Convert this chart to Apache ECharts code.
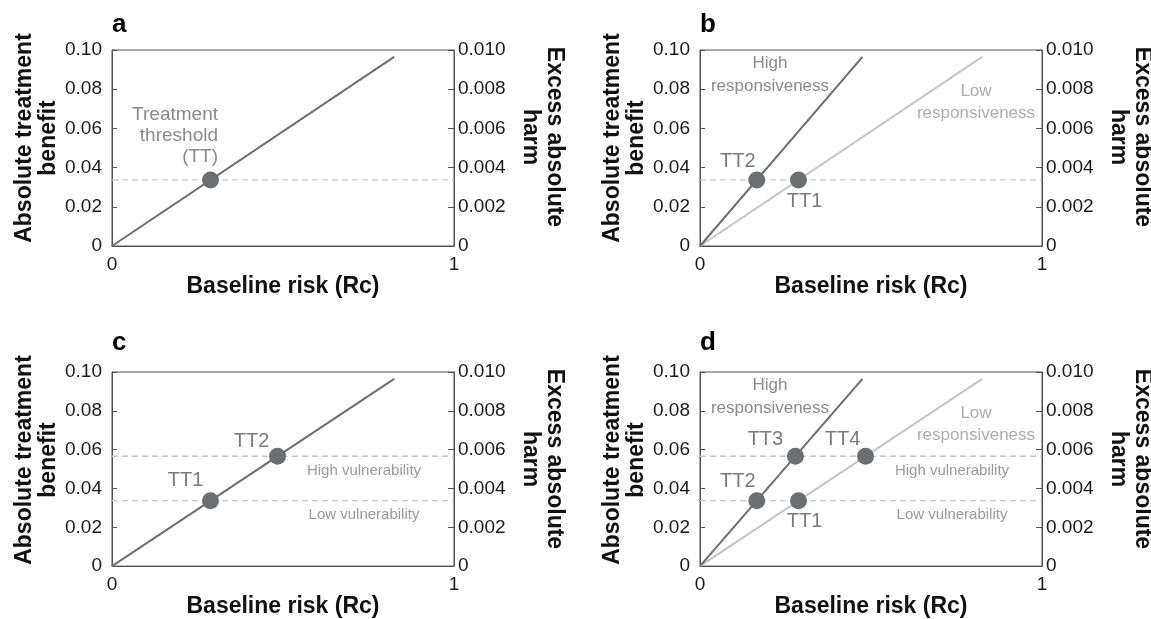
<!DOCTYPE html>
<html>
<head>
<meta charset="utf-8">
<script src="https://cdn.jsdelivr.net/npm/echarts@6/dist/echarts.min.js"></script>
<style>
  html, body { margin: 0; padding: 0; background: #ffffff; }
  #chart { width: 1151px; height: 619px; }
</style>
</head>
<body>
<div id="chart"></div>
<script>
// ---- values ----
const xTickValues = [0, 1];
const benefitRange = [0, 0.1];       // left axis: absolute treatment benefit
const harmRange = [0, 0.01];         // right axis: excess absolute harm
const lowVulnerability = 0.0337;     // treatment threshold, low vulnerability
const highVulnerability = 0.0566;    // treatment threshold, high vulnerability

// benefit vs baseline risk
const lowResponsiveness = [[0, 0], [0.825, 0.0965]];
const highResponsiveness = [[0, 0], [0.475, 0.0965]];

// treatment thresholds: [baseline risk, benefit, name]
const pointsA = [[0.288, 0.0337, 'TT']];
const pointsB = [[0.166, 0.0337, 'TT2'], [0.288, 0.0337, 'TT1']];
const pointsC = [[0.288, 0.0337, 'TT1'], [0.484, 0.0566, 'TT2']];
const pointsD = [[0.166, 0.0337, 'TT2'], [0.288, 0.0337, 'TT1'],
                 [0.279, 0.0566, 'TT3'], [0.484, 0.0566, 'TT4']];

// ---- styling ----
const FONT = "'Liberation Sans', Arial, Helvetica, sans-serif";
const AXIS = '#505050';
const DARK = '#6d6e71';
const LIGHT = '#c4c4c4';
const DASH = '#c8c8c8';
const GW = 342, GH = 196;

const panels = [
  { key: 'a', left: 112, top: 50,  lines: [{ data: lowResponsiveness, color: DARK }],
    thresholds: [lowVulnerability], points: pointsA, showNames: false },
  { key: 'b', left: 700, top: 50,  lines: [{ data: lowResponsiveness, color: LIGHT }, { data: highResponsiveness, color: DARK }],
    thresholds: [lowVulnerability], points: pointsB, showNames: true },
  { key: 'c', left: 112, top: 372, lines: [{ data: lowResponsiveness, color: DARK }],
    thresholds: [lowVulnerability, highVulnerability], points: pointsC, showNames: true },
  { key: 'd', left: 700, top: 372, lines: [{ data: lowResponsiveness, color: LIGHT }, { data: highResponsiveness, color: DARK }],
    thresholds: [lowVulnerability, highVulnerability], points: pointsD, showNames: true }
];

// where each threshold name sits relative to its dot
const labelOffsets = {
  b: { TT2: [-19, -18], TT1: [6, 22] },
  c: { TT1: [-25, -20], TT2: [-26, -15] },
  d: { TT2: [-19, -19], TT1: [6, 21], TT3: [-30, -17], TT4: [-23, -17] }
};

const fmt = (d) => (v) => (v === 0 ? '0' : v.toFixed(d));

const grid = [], xAxis = [], yAxis = [], series = [];

panels.forEach((p, i) => {
  grid.push({ left: p.left, top: p.top, width: GW, height: GH, show: true,
              borderColor: AXIS, borderWidth: 1, backgroundColor: 'transparent' });
  xAxis.push({
    type: 'value', gridIndex: i, min: xTickValues[0], max: xTickValues[1], interval: 1,
    axisLine: { show: true, lineStyle: { color: AXIS, width: 1 } },
    axisTick: { show: false }, splitLine: { show: false },
    axisLabel: { fontSize: 19, color: '#1a1a1a', margin: 9, fontFamily: FONT },
    name: 'Baseline risk (Rc)', nameLocation: 'middle', nameGap: 28,
    nameTextStyle: { fontSize: 23, fontWeight: 'bold', color: '#111', fontFamily: FONT }
  });
  yAxis.push({
    type: 'value', gridIndex: i, position: 'left', min: benefitRange[0], max: benefitRange[1], interval: 0.02,
    axisLine: { show: true, lineStyle: { color: AXIS, width: 1 } },
    axisTick: { show: true, inside: true, length: 5, lineStyle: { color: AXIS } },
    splitLine: { show: false },
    axisLabel: { fontSize: 19, color: '#1a1a1a', margin: 10, fontFamily: FONT, formatter: fmt(2) }
  });
  yAxis.push({
    type: 'value', gridIndex: i, position: 'right', min: harmRange[0], max: harmRange[1], interval: 0.002,
    axisLine: { show: true, lineStyle: { color: AXIS, width: 1 } },
    axisTick: { show: true, inside: true, length: 6, lineStyle: { color: AXIS } },
    splitLine: { show: false },
    axisLabel: { fontSize: 19, color: '#1a1a1a', margin: 4, fontFamily: FONT, formatter: fmt(3) }
  });

  p.thresholds.forEach((t) => {
    series.push({
      type: 'line', xAxisIndex: i, yAxisIndex: 2 * i, data: [[0, t], [1, t]],
      symbol: 'none', silent: true, z: 1,
      lineStyle: { color: DASH, width: 1.3, type: [6, 4] }
    });
  });
  p.lines.forEach((l) => {
    series.push({
      type: 'line', xAxisIndex: i, yAxisIndex: 2 * i, data: l.data,
      symbol: 'none', silent: true, z: 2,
      lineStyle: { color: l.color, width: 2 }
    });
  });
  series.push({
    type: 'scatter', xAxisIndex: i, yAxisIndex: 2 * i, z: 5,
    symbolSize: 17, itemStyle: { color: DARK, opacity: 1 },
    data: p.points.map((pt) => ({
      value: [pt[0], pt[1]],
      label: p.showNames ? {
        show: true, formatter: pt[2], position: 'inside',
        offset: labelOffsets[p.key][pt[2]],
        fontSize: 20, color: '#7a7a7a', fontFamily: FONT
      } : { show: false }
    }))
  });
});

// ---- free text: panel letters, axis titles, annotations ----
const txt = (x, y, text, o) => Object.assign({
  type: 'text', x, y, silent: true,
  style: Object.assign({ text, fontFamily: FONT, align: 'center', verticalAlign: 'middle' }, o.style)
}, o.el || {});

const graphic = [];
panels.forEach((p) => {
  const dy = p.top - 50;
  graphic.push(txt(p.left, 25 + dy * 0.988, p.key, { style: { fontSize: 26, fontWeight: 'bold', fill: '#000', align: 'left' } }));
  graphic.push(txt(p.left - 75, 138 + dy, 'Absolute treatment\nbenefit',
    { style: { fontSize: 23, fontWeight: 'bold', fill: '#111', lineHeight: 24 }, el: { rotation: Math.PI / 2 } }));
  graphic.push(txt(p.left + GW + 88, 137 + dy, 'Excess absolute\nharm',
    { style: { fontSize: 23, fontWeight: 'bold', fill: '#111', lineHeight: 24 }, el: { rotation: -Math.PI / 2 } }));
});

// panel a
graphic.push(txt(218, 136, 'Treatment\nthreshold\n(TT)', { style: { fontSize: 19, fill: '#8a8a8a', align: 'right', lineHeight: 21 } }));
// panels b and d: responsiveness
[50, 372].forEach((top) => {
  const dy = top - 50;
  graphic.push(txt(770, 74.5 + dy, 'High\nresponsiveness', { style: { fontSize: 17, fill: '#8a8a8a', lineHeight: 23 } }));
  graphic.push(txt(976, 102 + dy, 'Low\nresponsiveness', { style: { fontSize: 17, fill: '#adadad', lineHeight: 22 } }));
});
// panels c and d: vulnerability
[364, 952].forEach((cx) => {
  graphic.push(txt(cx, 471, 'High vulnerability', { style: { fontSize: 15, fill: '#9a9a9a' } }));
  graphic.push(txt(cx, 515, 'Low vulnerability', { style: { fontSize: 15, fill: '#9a9a9a' } }));
});

const chart = echarts.init(document.getElementById('chart'), null, { renderer: 'canvas' });
chart.setOption({
  animation: false,
  backgroundColor: '#ffffff',
  textStyle: { fontFamily: FONT },
  grid, xAxis, yAxis, series, graphic
});
</script>
</body>
</html>
